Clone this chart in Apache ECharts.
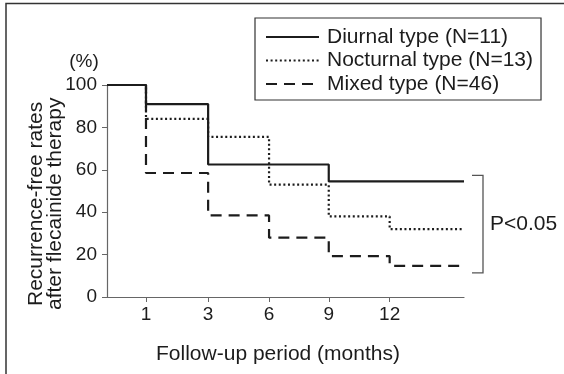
<!DOCTYPE html>
<html><head><meta charset="utf-8">
<script src="https://cdn.jsdelivr.net/npm/echarts@6/dist/echarts.min.js"></script>
<style>html,body{margin:0;padding:0;background:#fff}#c{width:564px;height:374px}</style>
</head><body><div id="c"></div>
<script>
// ---- data ----
const stepMonths = [0, 1, 3, 6, 9, 12];          // months at which each interval starts
const tickMonths = [1, 3, 6, 9, 12];
const tickLabels = ['1', '3', '6', '9', '12'];
const seriesNames = ['Diurnal type (N=11)', 'Nocturnal type (N=13)', 'Mixed type (N=46)'];
const diurnal   = [100, 91,   62.5, 62.5, 54.5, 54.5];
const nocturnal = [100, 84,   75.5, 53,   38,   32];
const mixed     = [100, 58.5, 38.5, 28,   19.3, 14.7];
const yTitleLines = ['Recurrence-free rates', 'after flecainide therapy'];
const xTitle = 'Follow-up period (months)';
const unitText = '(%)';
const pText = 'P<0.05';

// ---- axis geometry: the figure's time axis is not linear in months ----
const axisPosOfMonth = {0: 0, 1: 0.64, 3: 1.66, 6: 2.66, 9: 3.64, 12: 4.64};
const axisEnd = 5.86;
const pos = m => axisPosOfMonth[m];
const tickPos = tickMonths.map(pos);

function stepData(vals) {
  const d = stepMonths.map((m, i) => [pos(m), vals[i]]);
  d.push([axisEnd, vals[vals.length - 1]]);
  return d;
}

const FONT = '"Liberation Sans", Arial, Helvetica, sans-serif';
const INK = '#1c1c1c';
const chart = echarts.init(document.getElementById('c'), null, {renderer: 'canvas'});

const styles = [
  {type: 'solid', width: 2.2},
  {type: [2, 2.6], width: 2.2},
  {type: [11, 7], width: 2.2}
];
const values = [diurnal, nocturnal, mixed];

const option = {
  animation: false,
  backgroundColor: '#fff',
  grid: {left: 107, right: 100, top: 85, bottom: 77, containLabel: false},
  legend: {
    left: 255, top: 18, orient: 'vertical',
    padding: [8, 8, 5, 10],
    itemWidth: 53, itemHeight: 14, itemGap: 1.5,
    borderColor: '#333', borderWidth: 1.2,
    itemStyle: {opacity: 0, borderWidth: 0},
    textStyle: {fontSize: 21, fontFamily: FONT, color: INK, lineHeight: 22, padding: [0, 0, 0, 3]},
    data: seriesNames
  },
  xAxis: {
    type: 'value', min: 0, max: axisEnd,
    axisLine: {show: true, lineStyle: {color: '#666', width: 1.2}},
    axisTick: {show: true, customValues: tickPos, length: 5, lineStyle: {color: '#666'}},
    axisLabel: {
      customValues: tickPos, fontSize: 19, fontFamily: FONT, color: INK, margin: 8,
      formatter: v => {
        const i = tickPos.findIndex(p => Math.abs(p - v) < 1e-6);
        return i >= 0 ? tickLabels[i] : '';
      }
    },
    splitLine: {show: false},
    name: xTitle, nameLocation: 'middle', nameGap: 47,
    nameTextStyle: {fontSize: 21, fontFamily: FONT, color: INK, padding: [0, 15, 0, 0]}
  },
  yAxis: {
    type: 'value', min: 0, max: 100, interval: 20,
    axisLine: {show: true, lineStyle: {color: '#666', width: 1.2}},
    axisTick: {show: true, length: 5, lineStyle: {color: '#666'}},
    axisLabel: {fontSize: 19, fontFamily: FONT, color: INK, margin: 10},
    splitLine: {show: false}
  },
  series: seriesNames.map((n, i) => ({
    name: n, type: 'line', step: 'end', symbol: 'none', showSymbol: false,
    data: stepData(values[i]),
    lineStyle: {color: INK, width: styles[i].width, type: styles[i].type},
    itemStyle: {color: INK},
    z: 3 - i
  }))
};
chart.setOption(option);

// annotations placed relative to the data through the axes
const topPt = chart.convertToPixel({gridIndex: 0}, [axisEnd, diurnal[diurnal.length - 1]]);
const botPt = chart.convertToPixel({gridIndex: 0}, [axisEnd, mixed[mixed.length - 1]]);
const bx = topPt[0] + 19, by0 = topPt[1] - 6, by1 = botPt[1] + 7;
const y100 = chart.convertToPixel({yAxisIndex: 0}, 100);
const y0 = chart.convertToPixel({yAxisIndex: 0}, 0);
const x0 = chart.convertToPixel({xAxisIndex: 0}, 0);

chart.setOption({
  graphic: [
    {type: 'polyline', shape: {points: [[6, 374], [6, 3.5], [564, 3.5]]},
     style: {stroke: '#333', lineWidth: 1.5, fill: null}},
    {type: 'polyline', shape: {points: [[bx - 11, by0], [bx, by0], [bx, by1], [bx - 11, by1]]},
     style: {stroke: '#555', lineWidth: 1.3, fill: null}},
    {type: 'text', x: bx + 7, y: (by0 + by1) / 2,
     style: {text: pText, font: '21px ' + FONT, fill: INK, textVerticalAlign: 'middle', textAlign: 'left'}},
    {type: 'text', x: x0 - 23, y: y100 - 23,
     style: {text: unitText, font: '19px ' + FONT, fill: INK, textVerticalAlign: 'middle', textAlign: 'center'}},
    {type: 'text', x: x0 - 71, y: y0 + 9, rotation: Math.PI / 2,
     style: {text: yTitleLines[0], font: '21px ' + FONT, fill: INK, textVerticalAlign: 'middle', textAlign: 'left'}},
    {type: 'text', x: x0 - 52, y: y0 + 13, rotation: Math.PI / 2,
     style: {text: yTitleLines[1], font: '21px ' + FONT, fill: INK, textVerticalAlign: 'middle', textAlign: 'left'}}
  ]
});
</script>
</body></html>
